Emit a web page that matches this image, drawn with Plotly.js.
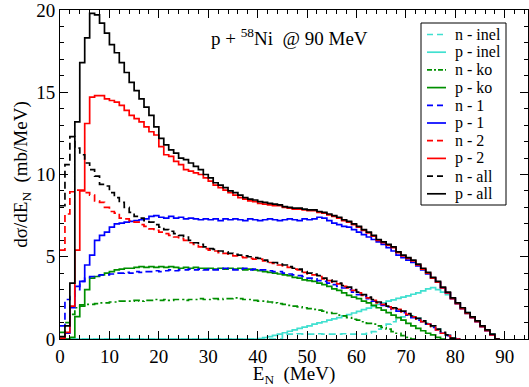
<!DOCTYPE html>
<html>
<head>
<meta charset="utf-8">
<script src="https://cdn.plot.ly/plotly-3.0.1.min.js"></script>
<style>html,body{margin:0;padding:0;background:#fff;}#chart{width:529px;height:387px;}</style>
</head>
<body>
<div id="chart"></div>
<script>
// bin width of the histograms (MeV); bins start at 0
var binWidth = 1;

// series values, one per 1-MeV bin starting at E = 0
var nInel = [0,0,0,0,0,0,0,0,0,0, 0,0,0,0,0,0,0,0,0,0, 0,0,0,0,0,0,0,0,0,0, 0,0,0,0,0,0,0,0,0,0,
  0,0,0,0,0,0.28,0.3,0.3,0.32,0.3, 0.3,0.3,0.32,0.3,0.3,0.3,0.3,0.32,0.3,0.3,
  0.3,0.3,0.35,0.45,0.6,0.75,0.9,1.05,1.2,1.35, 1.45,1.4,1.25,1.1,0.95,0.8,0.6,0.4,0.25,0.05,0];
var pInel = [0,0,0,0,0,0,0,0,0,0, 0,0,0,0,0,0,0,0,0,0, 0,0,0,0,0,0,0,0,0,0, 0,0,0,0,0,0,0,0,0,0,
  0.03,0.08,0.15,0.22,0.3,0.38,0.47,0.55,0.65,0.72, 0.8,0.9,0.98,1.05,1.15,1.22,1.3,1.4,1.48,1.58,
  1.68,1.78,1.88,1.98,2.1,2.2,2.3,2.38,2.47,2.55, 2.62,2.72,2.8,2.92,3.05,3.12,3.0,2.85,2.7,2.5,
  2.2,1.9,1.6,1.35,1.1,0.8,0.55,0.3,0];
var nKo = [0.4,1.0,1.5,1.9,2.0,2.1,2.1,2.15,2.2,2.2,
  2.25,2.25,2.3,2.3,2.3,2.35,2.3,2.35,2.35,2.4,
  2.35,2.4,2.35,2.4,2.4,2.35,2.4,2.4,2.45,2.4,
  2.4,2.45,2.4,2.45,2.45,2.5,2.45,2.4,2.4,2.35,
  2.3,2.3,2.25,2.2,2.15,2.1,2.05,2.0,1.95,1.9,
  1.85,1.8,1.75,1.7,1.6,1.55,1.45,1.4,1.3,1.2,
  1.15,1.05,0.95,0.9,0.8,0.7,0.6,0.45,0.35,0.2,
  0.1,0];
var pKo = [0,0,0.1,1.36,2.07,3.0,3.7,3.8,3.9,4.0,
  4.1,4.2,4.25,4.3,4.3,4.35,4.4,4.35,4.4,4.35,
  4.4,4.35,4.4,4.35,4.3,4.35,4.3,4.35,4.3,4.3,
  4.3,4.25,4.3,4.25,4.3,4.25,4.3,4.2,4.25,4.2,
  4.15,4.1,4.05,4.0,3.95,3.9,3.85,3.75,3.7,3.6,
  3.55,3.5,3.4,3.3,3.2,3.05,2.95,2.8,2.65,2.55,
  2.45,2.3,2.2,2.05,1.9,1.75,1.6,1.45,1.3,1.15,
  0.95,0.8,0.65,0.5,0.35,0.25,0.1,0];
var nOne = [0.8,2.4,2.6,3.0,3.5,3.7,3.8,3.85,3.9,3.9,
  3.95,4.0,4.0,4.05,4.0,4.1,4.05,4.1,4.1,4.15,
  4.1,4.15,4.2,4.15,4.2,4.2,4.25,4.2,4.25,4.2,
  4.25,4.2,4.25,4.3,4.25,4.2,4.25,4.3,4.2,4.25,
  4.2,4.2,4.15,4.1,4.1,4.0,3.95,3.9,3.85,3.8,
  3.7,3.65,3.55,3.5,3.4,3.3,3.2,3.1,3.0,2.85,
  2.7,2.6,2.45,2.3,2.15,2.05,1.95,1.8,1.7,1.6,
  1.45,1.3,1.15,1.05,0.9,0.7,0.55,0.35,0.2,0.05,0];
var pOne = [0,0.35,1.9,3.2,3.5,4.5,5.1,6.0,6.3,6.5,
  6.8,7.0,7.05,7.1,7.15,7.2,7.25,7.3,7.45,7.5,
  7.4,7.35,7.45,7.35,7.4,7.3,7.35,7.3,7.25,7.3,
  7.25,7.3,7.2,7.3,7.25,7.3,7.25,7.2,7.3,7.25,
  7.2,7.25,7.3,7.25,7.2,7.25,7.3,7.25,7.2,7.3,
  7.25,7.3,7.4,7.35,7.2,7.05,6.95,6.85,6.8,6.65,
  6.5,6.35,6.2,6.05,5.9,5.75,5.55,5.35,5.1,4.95,
  4.8,4.65,4.45,4.2,3.95,3.7,3.45,3.1,2.8,2.45,
  2.15,1.85,1.55,1.3,1.05,0.75,0.5,0.25,0];
var nTwo = [5.4,7.6,8.95,9.05,9.05,8.9,8.75,8.4,8.3,8.0,
  7.75,7.65,7.35,7.3,7.2,7.1,6.95,6.85,6.7,6.6,
  6.5,6.4,6.3,6.2,6.1,6.0,5.85,5.75,5.6,5.5,
  5.4,5.35,5.25,5.2,5.1,5.05,5.0,4.95,4.9,4.85,
  4.85,4.75,4.65,4.6,4.5,4.45,4.35,4.25,4.2,4.05,
  3.95,3.9,3.8,3.65,3.55,3.45,3.35,3.2,3.1,2.95,
  2.8,2.65,2.5,2.35,2.2,2.1,1.95,1.85,1.8,1.65,
  1.5,1.35,1.2,1.05,0.9,0.75,0.55,0.35,0.2,0.05,0];
var pTwo = [0.05,0.4,2.0,5.4,9.0,13.1,14.7,14.8,14.8,14.6,
  14.5,14.4,14.2,13.9,13.6,13.4,13.2,12.9,12.6,12.4,
  11.7,11.2,11.1,10.8,10.6,10.3,10.2,10.1,10.0,9.8,
  9.6,9.35,9.2,9.05,8.9,8.75,8.6,8.5,8.4,8.35,
  8.25,8.2,8.15,8.1,8.1,8.0,7.95,7.9,7.9,7.85,
  7.8,7.8,7.7,7.65,7.55,7.45,7.35,7.2,7.1,6.95,
  6.8,6.6,6.45,6.25,6.0,5.85,5.7,5.55,5.25,5.05,
  4.9,4.75,4.5,4.25,4.0,3.7,3.45,3.1,2.8,2.45,
  2.15,1.85,1.55,1.3,1.05,0.75,0.5,0.25,0];
var nAll = [8.1,10.6,12.3,11.6,11.2,10.7,10.3,9.9,9.4,9.3,
  8.9,8.6,8.3,8.0,7.7,7.45,7.35,7.2,7.1,6.95,
  6.8,6.65,6.55,6.4,6.3,6.2,6.0,5.85,5.75,5.6,
  5.5,5.45,5.35,5.3,5.2,5.15,5.1,5.05,5.0,4.95,
  4.9,4.8,4.7,4.65,4.55,4.5,4.4,4.3,4.25,4.1,
  4.0,3.95,3.85,3.7,3.6,3.5,3.4,3.25,3.15,3.0,
  2.85,2.7,2.55,2.4,2.25,2.15,2.0,1.9,1.85,1.7,
  1.55,1.4,1.25,1.1,0.95,0.8,0.6,0.4,0.25,0.05,0];
var pAll = [0.15,0.8,3.4,13.2,16.8,18.3,19.8,19.7,19.2,18.6,
  17.9,17.4,16.8,16.2,15.6,15.1,14.6,14.1,13.6,12.9,
  12.2,11.8,11.5,11.3,11.0,10.9,10.7,10.5,10.3,10.0,
  9.8,9.5,9.35,9.2,9.0,8.9,8.75,8.6,8.5,8.45,
  8.35,8.3,8.25,8.2,8.15,8.05,8.0,7.95,7.95,7.9,
  7.85,7.85,7.75,7.7,7.6,7.5,7.4,7.25,7.15,7.0,
  6.85,6.65,6.5,6.3,6.05,5.9,5.75,5.6,5.3,5.1,
  4.95,4.8,4.55,4.3,4.05,3.75,3.5,3.15,2.85,2.5,
  2.2,1.9,1.6,1.35,1.1,0.8,0.55,0.3,0];

var seriesNames = ['n - inel','p - inel','n - ko','p - ko','n - 1','p - 1','n - 2','p - 2','n - all','p - all'];
var seriesData = [nInel,pInel,nKo,pKo,nOne,pOne,nTwo,pTwo,nAll,pAll];
var seriesColors = ['#40e0d0','#40e0d0','#008f00','#008f00','#0000ff','#0000ff','#ff0000','#ff0000','#000000','#000000'];
var seriesDash = ['7px,4px','solid','7px,3px,2px,3px','solid','7px,4px','solid','7px,4px','solid','7px,4px','solid'];
var lineW = 1.7;

function stepTrace(vals, name, color, dash) {
  var x = [], y = [];
  for (var i = 0; i < vals.length; i++) { x.push(i * binWidth); y.push(vals[i]); }
  x.push(vals.length * binWidth); y.push(vals[vals.length - 1]);
  return {x: x, y: y, type: 'scatter', mode: 'lines', name: name, showlegend: false,
    line: {shape: 'hv', color: color, width: lineW, dash: dash}, hoverinfo: 'skip'};
}

var traces = [];
for (var k = 0; k < seriesData.length; k++) {
  traces.push(stepTrace(seriesData[k], seriesNames[k], seriesColors[k], seriesDash[k]));
}

// plot-area geometry in page pixels (for the legend box drawn in paper coordinates)
var W = 529, H = 387, mL = 60, mR = 1, mT = 10, mB = 48;
var plotW = W - mL - mR, plotH = H - mT - mB;
function px2x(p) { return (p - mL) / plotW; }
function px2y(p) { return (H - mB - p) / plotH; }

var fontFam = 'Liberation Serif, Times New Roman, serif';

// legend (box, line samples, labels)
var shapes = [{type: 'rect', xref: 'paper', yref: 'paper',
  x0: px2x(421), x1: px2x(506), y0: px2y(23), y1: px2y(205),
  line: {color: 'black', width: 1}, fillcolor: 'white', layer: 'above'}];
var annotations = [];
var legTop = 34.5, legStep = 17.7;
for (var j = 0; j < seriesNames.length; j++) {
  var py = legTop + j * legStep;
  shapes.push({type: 'line', xref: 'paper', yref: 'paper',
    x0: px2x(427), x1: px2x(446), y0: px2y(py), y1: px2y(py),
    line: {color: seriesColors[j], width: lineW, dash: seriesDash[j] === 'solid' ? 'solid' : (j === 2 ? '5px,2px,2px,2px' : '6px,4px')},
    layer: 'above'});
  annotations.push({text: seriesNames[j], xref: 'paper', yref: 'paper',
    x: px2x(453), y: px2y(py), xanchor: 'left', yanchor: 'middle', showarrow: false,
    font: {family: fontFam, size: 16, color: 'black'}});
}
annotations.push({
  text: 'p + <sup>58</sup>Ni  @ 90 MeV', xref: 'paper', yref: 'paper',
  x: px2x(289), y: px2y(37), xanchor: 'center', yanchor: 'middle', showarrow: false,
  font: {family: fontFam, size: 19, color: 'black'}
});

var axisCommon = {
  showline: true, linecolor: 'black', linewidth: 1, mirror: 'ticks',
  ticks: 'inside', ticklen: 8, tickwidth: 1, tickcolor: 'black',
  showgrid: false, zeroline: false, automargin: false, ticklabeloverflow: 'allow',
  tickfont: {family: fontFam, size: 19, color: 'black'}
};

var layout = {
  width: W, height: H,
  margin: {l: mL, r: mR, t: mT, b: mB},
  paper_bgcolor: 'white', plot_bgcolor: 'white',
  font: {family: fontFam, color: 'black'},
  showlegend: false,
  xaxis: Object.assign({}, axisCommon, {
    range: [0, 94.7], tick0: 0, dtick: 10,
    minor: {dtick: 2, ticks: 'inside', ticklen: 4, tickcolor: 'black', tickwidth: 1},
    title: {text: 'E<sub>N</sub>  (MeV)', font: {family: fontFam, size: 19}, standoff: 0}
  }),
  yaxis: Object.assign({}, axisCommon, {
    range: [0, 20], tick0: 0, dtick: 5,
    minor: {dtick: 1, ticks: 'inside', ticklen: 4, tickcolor: 'black', tickwidth: 1},
    title: {text: 'dσ/dE<sub>N</sub>  (mb/MeV)', font: {family: fontFam, size: 19}, standoff: 3}
  }),
  shapes: shapes,
  annotations: annotations,
  hovermode: false
};

Plotly.newPlot('chart', traces, layout, {staticPlot: true, displayModeBar: false});
</script>
</body>
</html>
